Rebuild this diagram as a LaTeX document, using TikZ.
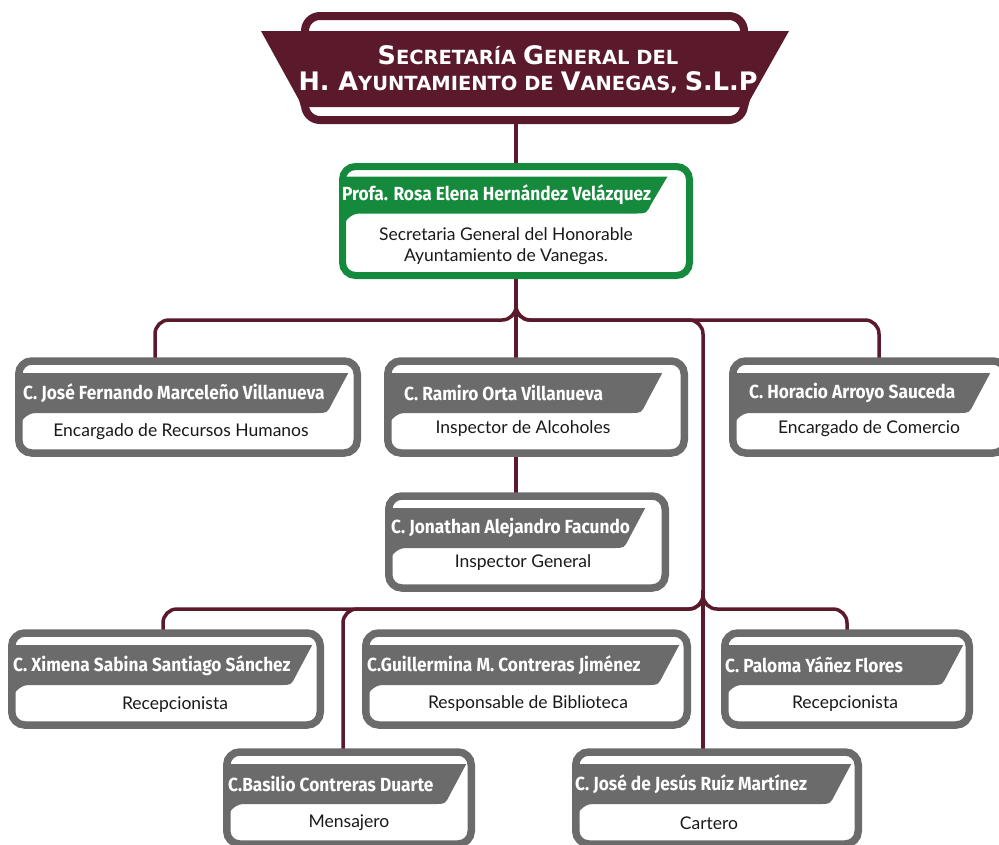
\documentclass[tikz,border=0pt]{standalone}
\usepackage{fontspec}
\setmainfont{Lato}
\newfontfamily\nombrefont[FakeStretch=0.91]{Fira Sans}
\newfontfamily\titulofont{DejaVu Sans}
\usetikzlibrary{calc,backgrounds}
\definecolor{vino}{RGB}{91,26,43}
\definecolor{verde}{RGB}{22,138,60}
\definecolor{gris}{RGB}{107,107,107}
\newcommand\mayus[1]{{\fontsize{25.5}{26}\selectfont #1}}
\newcommand\versal[1]{{\fontsize{19.5}{26}\selectfont #1}}

\begin{document}
\begin{tikzpicture}
  [x=1pt,y=-1pt,
   marco/.style={draw=vino,line width=8pt,rounded corners=15pt,minimum width=439pt,
     minimum height=104pt,inner sep=0pt,outer sep=0pt},
   titulo/.style={inner sep=0pt,text=white,align=center,
     font=\titulofont\bfseries\fontsize{20}{26}\selectfont},
   caja/.style={draw=gris,line width=7.5pt,rounded corners=13pt,minimum height=92pt,
     inner sep=0pt,outer sep=0pt},
   linea/.style={draw=vino,line width=3.5pt,rounded corners=14pt},
   nombre/.style={anchor=west,inner sep=0pt,text=white,
     font=\nombrefont\bfseries\fontsize{19}{19}\selectfont},
   cargo/.style={inner sep=0pt,text=black!90,font=\fontsize{17.5}{21}\selectfont}]
  \useasboundingbox (0,0) rectangle (999,844);

  % encabezado
  \fill[vino] (261,31) -- (789,31) -- (750,100) -- (748,107) -- (301,107) -- (299,100) -- cycle;
  \node[marco] (hdr) at (524.5,68) {};
  \node[titulo] (tit) at (528,69)
    {\mayus{S}\versal{ECRETAR\'IA} \mayus{G}\versal{ENERAL DEL}\\
     \mayus{H. A}\versal{YUNTAMIENTO DE} \mayus{V}\versal{ANEGAS,} \mayus{S.L.P}};

  \node[caja,draw=verde,line width=7pt,minimum width=347pt,minimum height=109pt] (sec) at (516,221) {};

  \node[caja,minimum width=338.5pt] (rh) at (188,407) {};
  \node[caja,minimum width=296.5pt] (ra) at (536,407) {};
  \node[caja,minimum width=273.5pt] (co) at (869.5,407) {};
  \node[caja,minimum width=276.5pt] (jo) at (527,542) {};
  \node[caja,minimum width=308.5pt] (xi) at (166,679) {};
  \node[caja,minimum width=321.5pt] (gu) at (526.5,679) {};
  \node[caja,minimum width=244.5pt] (pa) at (847,679) {};
  \node[caja,minimum width=244.5pt] (ba) at (349,798) {};
  \node[caja,minimum width=282.5pt] (ca) at (717,798) {};

  % franjas de los nombres
  \foreach \b/\d/\t/\u/\c in {rh/9/12/52/gris,ra/22/12/52/gris,co/16/12/52/gris,
      jo/20/12/52/gris,xi/8/12/52/gris,gu/8/12/52/gris,pa/6/12/52/gris,
      ba/5/12/52/gris,ca/7/12/52/gris,sec/22/10/47/verde}
    \fill[\c] ($(\b.north west)+(0,\t)$) -- ($(\b.north east)+(-\d,\t)$)
      -- ($(\b.north east)+(-\d-16,\u-10)$) .. controls ($(\b.north east)+(-\d-21,\u)$)
      .. ($(\b.north east)+(-\d-31,\u)$) -- ($(\b.north west)+(17,\u)$)
      .. controls ($(\b.north west)+(7.5,\u)$) and ($(\b.north west)+(0,\u+9.5)$)
      .. ($(\b.north west)+(0,\u+17)$) -- cycle;

  \node[nombre] (sec-n) at (342,195) {Profa. Rosa Elena Hernández Velázquez};
  \node[cargo,align=center] (sec-c) at (506,246) {Secretaria General del Honorable\\Ayuntamiento de Vanegas.};

  \node[nombre] (rh-n) at (23,393) {C. José Fernando Marceleño Villanueva};
  \node[cargo] (rh-c) at (181,432) {Encargado de Recursos Humanos};
  \node[nombre] (ra-n) at (404,393) {C. Ramiro Orta Villanueva};
  \node[cargo] (ra-c) at (523,429) {Inspector de Alcoholes};
  \node[nombre] (co-n) at (749,393) {C. Horacio Arroyo Sauceda};
  \node[cargo] (co-c) at (869,429) {Encargado de Comercio};
  \node[nombre] (jo-n) at (391,528) {C. Jonathan Alejandro Facundo};
  \node[cargo] (jo-c) at (523,563) {Inspector General};
  \node[nombre] (xi-n) at (13,666) {C. Ximena Sabina Santiago Sánchez};
  \node[cargo] (xi-c) at (175,705) {Recepcionista};
  \node[nombre] (gu-n) at (367,665) {C.Guillermina M. Contreras Jiménez};
  \node[cargo] (gu-c) at (528,704) {Responsable de Biblioteca};
  \node[nombre] (pa-n) at (725,665) {C. Paloma Yáñez Flores};
  \node[cargo] (pa-c) at (845,704) {Recepcionista};
  \node[nombre] (ba-n) at (228,784) {C.Basilio Contreras Duarte};
  \node[cargo] (ba-c) at (349,823) {Mensajero};
  \node[nombre] (ca-n) at (575,784) {C. José de Jesús Ruíz Martínez};
  \node[cargo] (ca-c) at (709,823) {Cartero};

  \coordinate (bus) at (703,590);
  \begin{scope}[on background layer]
    \draw[linea] (sec.north |- hdr.south) -- (sec.north);
    \draw[linea] (sec.south) -- ++(0,44.5) -| ($(rh.north)+(-33,0)$);
    \draw[linea] (sec.south) -- ++(0,44.5) -| ($(co.north)+(9.5,0)$);
    \draw[linea] (sec.south) -- ++(0,44.5) -| (bus);
    \draw[linea] (sec.south) -- (sec.south |- ra.north);
    \draw[linea] (sec.south |- ra.south) -- (sec.south |- jo.north);
    \draw[linea] (bus) -- ++(0,19) -| ($(xi.north)+(-3,0)$);
    \draw[linea] (bus) -- ++(0,19) -| ($(ba.north)+(-6,0)$);
    \draw[linea] (bus) -- ++(0,19) -| (pa.north);
    \draw[linea] (bus) -- (bus |- ca.north);
  \end{scope}

\end{tikzpicture}
\end{document}
